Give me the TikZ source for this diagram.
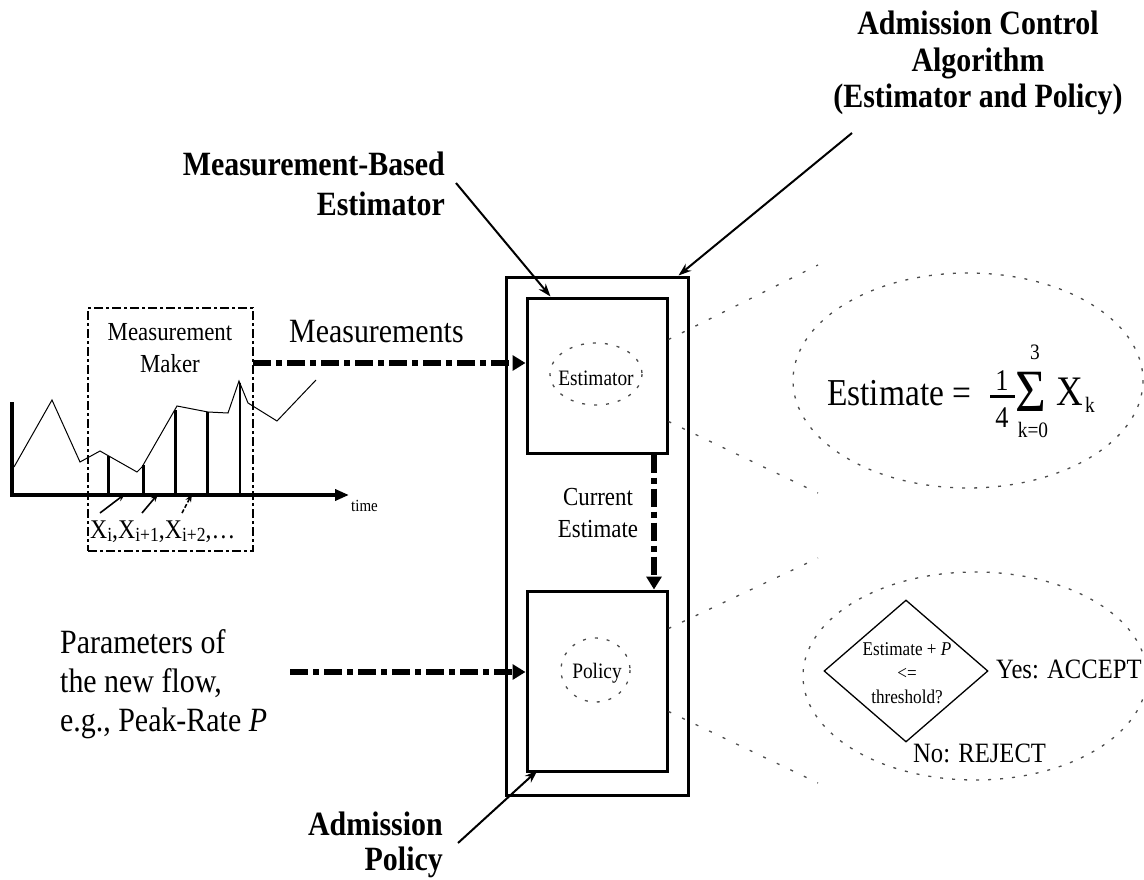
\documentclass[tikz,border=0pt]{standalone}
\usepackage{fontspec}
\setmainfont{Liberation Serif}[FakeStretch=0.88]
\usetikzlibrary{arrows.meta,shapes.geometric,calc}
\newcommand\lowsub[1]{\raisebox{-3pt}{\fontsize{20}{20}\selectfont #1}}
\begin{document}
\begin{tikzpicture}[x=1pt,y=-1pt,
  lab/.style={font=\fontsize{34}{40}\selectfont\bfseries, inner sep=0pt},
  txt/.style={inner sep=0pt},
  box/.style={draw, line width=3pt, inner sep=0pt},
  ptr/.style={line width=2pt, -{Stealth[length=13pt,width=9pt]}},
  flow/.style={line width=5.5pt, dash pattern=on 18pt off 5pt on 6pt off 5pt, -{Triangle[length=13pt,width=15pt]}},
  maker/.style={draw, line width=2.5pt, dash pattern=on 9pt off 3pt on 3pt off 3pt},
  cone/.style={draw=black!70, line width=1.3pt, dash pattern=on 3pt off 12pt},
  dot/.style={draw=black!70, line width=1.3pt, dash pattern=on 3pt off 9pt},
  tick/.style={line width=1.6pt, -{Stealth[length=8pt,width=6pt]}}
]
\useasboundingbox (0,0) rectangle (1144,880);

% labels (base anchor = last line baseline)
\node[lab, align=right, anchor=base east] (mbe) at (445,215) {Measurement-Based\\Estimator};
\node[lab, align=center, anchor=base, font=\fontsize{34}{36.5}\selectfont\bfseries] (aca) at (978,108) {Admission Control\\Algorithm\\(Estimator and Policy)};
\node[lab, align=right, anchor=base east, font=\fontsize{34}{35}\selectfont\bfseries] (ap) at (443,870) {Admission\\Policy};

% boxes
\node[box, minimum width=182pt, minimum height=518pt] (outer) at (597,536) {};
\node[box, minimum width=140pt, minimum height=155pt] (est) at (597,375.5) {};
\node[box, minimum width=140pt, minimum height=180pt] (pol) at (597,681) {};

\draw[dot] (596,374) ellipse [x radius=46, y radius=31];
\node[txt, font=\fontsize{22}{22}\selectfont] (estt) at (596,378) {Estimator};
\draw[dot] (595.5,670) ellipse [x radius=34.5, y radius=32];
\node[txt, font=\fontsize{22}{22}\selectfont] (polt) at (597,673) {Policy};

\node[txt, align=center, anchor=base, font=\fontsize{26}{32}\selectfont] (cur) at (598,537) {Current\\Estimate};
\coordinate (cx) at (654,0);
\draw[flow] (est.south -| cx) -- (pol.north -| cx);

% pointer arrows
\coordinate (mbeS) at (456,183);
\coordinate (acaS) at (852,133);
\coordinate (apS) at (458,843);
\draw[ptr] (mbeS) -- ($(est.north west)+(25,0)$);
\draw[ptr] (acaS) -- ($(outer.north east)+(-11,0)$);
\draw[ptr] (apS) -- ($(pol.south west)+(12,-2)$);

% measurement maker
\node[maker, minimum width=165pt, minimum height=243pt, inner sep=0pt] (mm) at (170.5,429.5) {};
\node[txt, align=center, anchor=base, font=\fontsize{26}{32}\selectfont] (mmt) at (170,372) {Measurement\\Maker};
\draw[line width=4pt, -{Triangle[length=14pt,width=11pt]}] (12,402) -- (12,495) -- (349,495);
\node[txt, anchor=base west, font=\fontsize{17}{17}\selectfont] (time) at (351,511) {time};
\draw[line width=1pt] (14,467) -- (52,400) -- (80,462) -- (100,451) -- (137,472) -- (142,467) -- (177,406) -- (208,412) -- (228,413) -- (239,381) -- (248,403) -- (277,421) -- (316,380);
\draw[line width=3pt] (108,456) -- (108,495);
\draw[line width=3pt] (143,465) -- (143,495);
\draw[line width=3pt] (175,410) -- (175,495);
\draw[line width=3pt] (207,412) -- (207,495);
\draw[line width=1.3pt] (240,383) -- (240,495);
\draw[tick] (100,513) -- (125,494);
\draw[tick] (142,513) -- (158,494);
\draw[tick, dash pattern=on 4pt off 2pt] (182,513) -- (192,494);
\node[txt, anchor=base west, font=\fontsize{27}{27}\selectfont] (xs) at (90,538) {X\lowsub{i},X\lowsub{i+1},X\lowsub{i+2},\ldots};

\node[txt, anchor=base west, font=\fontsize{34}{34}\selectfont] (meas) at (289,342) {Measurements};
\coordinate (mstart) at (253,363);
\draw[flow] (mstart) -- (mstart -| est.west);

\node[txt, align=left, anchor=base west, font=\fontsize{34}{39}\selectfont] (par) at (60,731) {Parameters of\\the new flow,\\e.g., Peak-Rate \textit{P}};
\coordinate (pstart) at (290,672);
\draw[flow] (pstart) -- (pstart -| pol.west);

% cones
\draw[cone] ($(est.north east)+(0,43)$) -- (818,265);
\draw[cone] ($(est.south east)+(0,-33)$) -- (818,493);
\draw[cone] ($(pol.north east)+(0,39)$) -- (818,558);
\draw[cone] ($(pol.south east)+(0,-61)$) -- (818,783);

% estimate ellipse
\draw[dot] (968,380.5) ellipse [x radius=175, y radius=107.5];
\node[txt, anchor=base west, font=\fontsize{38}{38}\selectfont] (eq) at (827,405) {Estimate =};
\node[txt, font=\fontsize{30}{30}\selectfont] (one) at (1002,381) {1};
\node[txt, font=\fontsize{30}{30}\selectfont] (four) at (1002,418) {4};
\draw[line width=3pt] (990,396) -- (1015,396);
\node[txt, anchor=base, font=\fontsize{60}{60}\selectfont] (sig) at (1031,411) {\smash{Σ}};
\node[txt, font=\fontsize{22}{22}\selectfont] (up) at (1035,352) {3};
\node[txt, anchor=base, font=\fontsize{22}{22}\selectfont] (lo) at (1033,437) {k=0};
\node[txt, anchor=base west, font=\fontsize{42}{42}\selectfont] (xk) at (1056,405) {X};
\node[txt, anchor=base west, font=\fontsize{22}{22}\selectfont] (kk) at (1085,412) {k};

% policy ellipse
\draw[dot] (975,676) ellipse [x radius=172, y radius=104];
\node[diamond, draw, line width=1.3pt, minimum width=164pt, minimum height=142pt, inner sep=0pt, shape aspect=1.15] (dia) at (906,671) {};
\node[txt, align=center, anchor=base, font=\fontsize{19.5}{24}\selectfont] (diat) at (907,703) {Estimate + \textit{P}\\<=\\threshold?};
\node[txt, anchor=base west, font=\fontsize{28}{28}\selectfont] (yes) at (996,678) {Yes: ACCEPT};
\node[txt, anchor=base west, font=\fontsize{28}{28}\selectfont] (no) at (913,762) {No: REJECT};
\end{tikzpicture}
\end{document}
